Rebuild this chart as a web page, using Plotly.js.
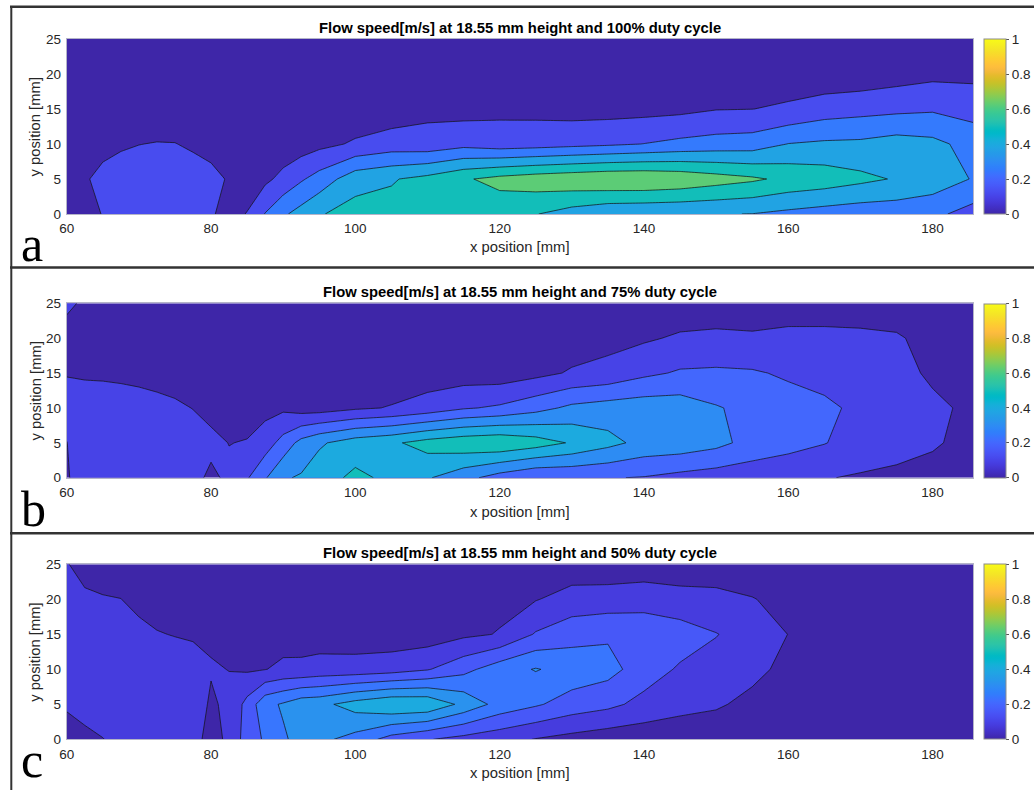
<!DOCTYPE html>
<html><head><meta charset="utf-8">
<script src="https://cdn.plot.ly/plotly-3.0.1.min.js"></script>
<style>html,body{margin:0;padding:0;background:#fff;}#chart{width:1034px;height:790px;}</style>
</head><body><div id="chart"></div>
<script>
// ---- data ----
const xPos = [60, 62.5, 65, 67.5, 70, 72.5, 75, 77.5, 80, 82.5, 85, 87.5, 90, 92.5, 95, 100, 105, 110, 115, 120, 125, 130, 135, 140, 145, 150, 155, 160, 165, 170, 175, 180, 185.6];
const yPos = [0, 5, 10, 15, 20, 25];

// flow speed [m/s], one row per y position, 100% duty cycle
const speed100 = [
 [0.07,0.08,0.13,0.14,0.15,0.15,0.15,0.14,0.13,0.109,0.127,0.255,0.356,0.422,0.49,0.55,0.54,0.58,0.58,0.548,0.505,0.446,0.399,0.39,0.385,0.38,0.373,0.345,0.32,0.302,0.30,0.28,0.2],
 [0.09,0.11,0.164,0.18,0.19,0.19,0.19,0.18,0.16,0.114,0.10,0.098,0.16,0.235,0.30,0.45,0.49,0.537,0.61,0.663,0.695,0.717,0.737,0.74,0.72,0.68,0.645,0.595,0.57,0.53,0.49,0.45,0.367],
 [0.06,0.07,0.083,0.11,0.123,0.13,0.128,0.108,0.084,0.07,0.06,0.06,0.05,0.063,0.092,0.14,0.18,0.169,0.21,0.183,0.195,0.213,0.23,0.252,0.28,0.30,0.31,0.378,0.395,0.40,0.429,0.408,0.33],
 [0.04,0.04,0.04,0.05,0.05,0.047,0.05,0.05,0.04,0.04,0.04,0.04,0.04,0.04,0.04,0.046,0.055,0.096,0.081,0.098,0.092,0.08,0.08,0.085,0.095,0.12,0.124,0.14,0.1875,0.207,0.221,0.234,0.2],
 [0.03,0.03,0.03,0.03,0.03,0.03,0.03,0.03,0.03,0.03,0.03,0.03,0.03,0.03,0.03,0.03,0.03,0.04,0.04,0.05,0.05,0.05,0.05,0.05,0.05,0.06,0.07,0.07,0.04,0.046,0.071,0.094,0.096],
 [0.03,0.03,0.03,0.03,0.03,0.03,0.03,0.03,0.03,0.03,0.03,0.03,0.03,0.03,0.03,0.03,0.03,0.03,0.03,0.03,0.03,0.03,0.03,0.03,0.03,0.03,0.03,0.03,0.03,0.03,0.03,0.05,0.05]
];
// 75% duty cycle
const speed75 = [
 [0.09,0.15,0.15,0.15,0.15,0.15,0.15,0.13,0.08,0.12,0.19,0.29,0.39,0.41,0.46,0.52,0.48,0.41,0.333,0.256,0.203,0.21,0.205,0.195,0.169,0.15,0.14,0.125,0.105,0.09,0.08,0.07,0.06],
 [0.098,0.16,0.16,0.16,0.16,0.155,0.15,0.14,0.125,0.098,0.105,0.15,0.2375,0.333,0.385,0.452,0.483,0.539,0.571,0.586,0.548,0.49,0.43,0.37,0.362,0.329,0.265,0.235,0.204,0.16,0.134,0.11,0.073],
 [0.14,0.14,0.14,0.135,0.13,0.125,0.115,0.098,0.07,0.06,0.06,0.07,0.081,0.056,0.055,0.085,0.106,0.14,0.19,0.215,0.265,0.322,0.345,0.357,0.354,0.308,0.27,0.24,0.23,0.1675,0.15,0.125,0.075],
 [0.095,0.09,0.088,0.085,0.08,0.07,0.06,0.05,0.05,0.05,0.05,0.05,0.05,0.05,0.045,0.05,0.04,0.05,0.05,0.045,0.073,0.11,0.13,0.179,0.211,0.215,0.21,0.187,0.147,0.14,0.14,0.08,0.06],
 [0.06,0.06,0.06,0.06,0.05,0.05,0.05,0.04,0.04,0.04,0.04,0.04,0.04,0.04,0.04,0.04,0.04,0.04,0.04,0.04,0.04,0.05,0.07,0.087,0.113,0.124,0.115,0.13,0.125,0.12,0.11,0.07,0.05],
 [0.12,0.084,0.07,0.06,0.05,0.05,0.05,0.04,0.04,0.04,0.04,0.04,0.04,0.04,0.04,0.04,0.04,0.04,0.04,0.04,0.04,0.04,0.04,0.04,0.04,0.035,0.04,0.04,0.05,0.05,0.05,0.04,0.04]
];
// 50% duty cycle
const speed50 = [
 [0.05,0.06,0.078,0.10,0.11,0.11,0.11,0.10,0.06,0.091,0.20,0.25,0.31,0.345,0.34,0.291,0.208,0.165,0.134,0.109,0.0765,0.054,0.035,0.03,0.03,0.03,0.03,0.03,0.03,0.03,0.03,0.03,0.03],
 [0.088,0.11,0.12,0.13,0.13,0.13,0.13,0.12,0.07,0.095,0.185,0.297,0.329,0.37,0.377,0.434,0.474,0.468,0.378,0.291,0.25,0.205,0.18,0.136,0.105,0.0895,0.06,0.04,0.035,0.03,0.03,0.03,0.03],
 [0.11,0.12,0.125,0.13,0.13,0.125,0.12,0.11,0.085,0.079,0.07,0.078,0.095,0.094,0.106,0.11,0.124,0.154,0.215,0.284,0.325,0.29,0.268,0.2,0.15,0.13,0.10,0.06,0.04,0.035,0.03,0.03,0.03],
 [0.11,0.11,0.12,0.12,0.10,0.084,0.077,0.072,0.07,0.05,0.05,0.05,0.05,0.053,0.047,0.04,0.035,0.038,0.065,0.084,0.167,0.21,0.229,0.21,0.2,0.163,0.125,0.079,0.05,0.04,0.035,0.03,0.03],
 [0.10,0.095,0.086,0.081,0.06,0.05,0.05,0.05,0.05,0.04,0.04,0.04,0.04,0.04,0.04,0.04,0.04,0.035,0.04,0.062,0.076,0.11,0.114,0.129,0.105,0.10,0.083,0.06,0.045,0.04,0.035,0.03,0.03],
 [0.085,0.05,0.04,0.04,0.04,0.04,0.04,0.04,0.04,0.04,0.04,0.04,0.04,0.04,0.04,0.04,0.04,0.035,0.035,0.035,0.035,0.035,0.033,0.03,0.039,0.04,0.04,0.04,0.035,0.035,0.03,0.03,0.03]
];
const levelStep100 = 0.125, levelStep75 = 0.1, levelStep50 = 0.08;

const panelTitles = [
 "Flow speed[m/s] at 18.55 mm height and 100% duty cycle",
 "Flow speed[m/s] at 18.55 mm height and 75% duty cycle",
 "Flow speed[m/s] at 18.55 mm height and 50% duty cycle"
];
const panelLetters = ["a", "b", "c"];
const xTickVals = [60, 80, 100, 120, 140, 160, 180];
const yTickVals = [0, 5, 10, 15, 20, 25];
const cbTickVals = [0, 0.2, 0.4, 0.6, 0.8, 1];
const cbTickText = ["0", "0.2", "0.4", "0.6", "0.8", "1"];
const xTitle = "x position [mm]";
const yTitle = "y position [mm]";

// ---- parula colormap ----
const parulaRGB = [[0.2422,0.1504,0.6603],[0.2504,0.1650,0.7076],[0.2578,0.1818,0.7511],[0.2647,0.1978,0.7952],[0.2706,0.2147,0.8364],[0.2751,0.2342,0.8710],[0.2783,0.2559,0.8991],[0.2803,0.2782,0.9221],[0.2813,0.3006,0.9414],[0.2810,0.3228,0.9579],[0.2795,0.3447,0.9717],[0.2760,0.3667,0.9829],[0.2699,0.3892,0.9906],[0.2602,0.4123,0.9952],[0.2440,0.4358,0.9988],[0.2206,0.4603,0.9973],[0.1963,0.4847,0.9892],[0.1834,0.5074,0.9798],[0.1786,0.5289,0.9682],[0.1764,0.5499,0.9520],[0.1687,0.5703,0.9359],[0.1540,0.5902,0.9218],[0.1460,0.6091,0.9079],[0.1380,0.6276,0.8973],[0.1248,0.6459,0.8883],[0.1113,0.6635,0.8763],[0.0952,0.6798,0.8598],[0.0689,0.6948,0.8394],[0.0297,0.7082,0.8163],[0.0036,0.7203,0.7917],[0.0067,0.7312,0.7660],[0.0433,0.7411,0.7394],[0.0964,0.7500,0.7120],[0.1408,0.7584,0.6842],[0.1717,0.7670,0.6554],[0.1938,0.7758,0.6251],[0.2161,0.7843,0.5923],[0.2470,0.7918,0.5567],[0.2906,0.7973,0.5188],[0.3406,0.8008,0.4789],[0.3909,0.8029,0.4354],[0.4456,0.8024,0.3909],[0.5044,0.7993,0.3480],[0.5616,0.7942,0.3045],[0.6174,0.7876,0.2612],[0.6720,0.7793,0.2227],[0.7242,0.7698,0.1910],[0.7738,0.7598,0.1646],[0.8203,0.7498,0.1535],[0.8634,0.7406,0.1596],[0.9035,0.7330,0.1774],[0.9393,0.7288,0.2100],[0.9728,0.7298,0.2394],[0.9956,0.7434,0.2371],[0.9970,0.7659,0.2199],[0.9952,0.7893,0.2028],[0.9892,0.8136,0.1885],[0.9786,0.8386,0.1766],[0.9676,0.8639,0.1643],[0.9610,0.8890,0.1537],[0.9597,0.9135,0.1423],[0.9628,0.9373,0.1265],[0.9691,0.9606,0.1064],[0.9769,0.9839,0.0805]];
function parula(t){
  t = Math.max(0, Math.min(1, t));
  const f = t * (parulaRGB.length - 1), i = Math.floor(f), w = f - i;
  const a = parulaRGB[i], b = parulaRGB[Math.min(i + 1, parulaRGB.length - 1)];
  const c = a.map((v, k) => Math.round(255 * (v + (b[k] - v) * w)));
  return 'rgb(' + c.join(',') + ')';
}
const parulaScale = parulaRGB.map((_, i) => [i / (parulaRGB.length - 1), parula(i / (parulaRGB.length - 1))]);

// band colours: MATLAB contourf colours each band by its lower level (clim 0..1)
function bandScale(step){
  const n = 6, s = [];
  for (let k = 0; k < n; k++) {
    const c = parula(k * step);
    const lo = k === 0 ? 0 : (k - 0.5) / (n - 1), hi = k === n - 1 ? 1 : (k + 0.5) / (n - 1);
    s.push([lo, c]); s.push([hi, c]);
  }
  return s;
}

// ---- geometry (pixels -> paper) ----
const W = 1034, H = 790;
const px = v => v / W, py = v => 1 - v / H;
const plotX = [66.7, 973];
const plotY = [[39, 214], [303.3, 477.7], [564.3, 739.3]];
const titleY = [28, 291.7, 553.3];
const xLabY = [246.7, 511.7, 772.7];
const letterBase = [262, 527, 778];
const speeds = [speed100, speed75, speed50];
const steps = [levelStep100, levelStep75, levelStep50];

const font = '"Liberation Sans", Arial, Helvetica, sans-serif';
const tickSize = 13.5, labelSize = 14.8;
const data = [], annotations = [], layout = {
  width: W, height: H, margin: {l: 0, r: 0, t: 0, b: 0},
  paper_bgcolor: '#ffffff', plot_bgcolor: '#ffffff', showlegend: false,
  font: {family: font, size: tickSize, color: '#262626'}
};

for (let p = 0; p < 3; p++) {
  const sfx = p === 0 ? '' : String(p + 1);
  const st = steps[p];
  data.push({
    type: 'contour', x: xPos, y: yPos, z: speeds[p],
    xaxis: 'x' + sfx, yaxis: 'y' + sfx,
    autocontour: false,
    contours: {start: st, end: 5 * st, size: st, coloring: 'fill', showlines: true},
    line: {color: 'rgba(20,20,20,0.9)', width: 0.8, smoothing: 0},
    colorscale: bandScale(st), showscale: false, hoverinfo: 'skip'
  });
  const yc = (plotY[p][0] + plotY[p][1]) / 2;
  data.push({
    type: 'scatter', mode: 'markers', x: [null], y: [null],
    xaxis: 'x' + sfx, yaxis: 'y' + sfx, hoverinfo: 'skip',
    marker: {color: [0], cmin: 0, cmax: 1, colorscale: parulaScale, showscale: true,
      colorbar: {x: px(984), xanchor: 'left', xpad: 0, ypad: 0, y: py(yc), yanchor: 'middle',
        len: (plotY[p][1] - plotY[p][0]) / H, lenmode: 'fraction', thickness: 22, thicknessmode: 'pixels',
        outlinewidth: 1, outlinecolor: '#8c8c8c', tickvals: cbTickVals, ticktext: cbTickText,
        ticks: 'outside', ticklen: 3, tickcolor: '#555', tickfont: {family: font, size: tickSize, color: '#262626'}}}
  });
  layout['xaxis' + sfx] = {domain: [px(plotX[0]), px(plotX[1])], anchor: 'y' + sfx, range: [60, 185.6],
    tickvals: xTickVals, ticks: 'outside', ticklen: 2, tickcolor: 'rgba(0,0,0,0)', showgrid: false, zeroline: false,
    showline: true, mirror: true, linecolor: '#b4b4c8', linewidth: 1, tickfont: {family: font, size: tickSize, color: '#262626'}};
  layout['yaxis' + sfx] = {domain: [py(plotY[p][1]), py(plotY[p][0])], anchor: 'x' + sfx, range: [0, 25],
    tickvals: yTickVals, ticks: 'outside', ticklen: 2, tickcolor: 'rgba(0,0,0,0)', showgrid: false, zeroline: false,
    showline: true, mirror: true, linecolor: '#b4b4c8', linewidth: 1, tickfont: {family: font, size: tickSize, color: '#262626'}};
  annotations.push({text: '<b>' + panelTitles[p] + '</b>', x: px((plotX[0] + plotX[1]) / 2), y: py(titleY[p]),
    xref: 'paper', yref: 'paper', xanchor: 'center', yanchor: 'middle', showarrow: false,
    font: {family: font, size: labelSize, color: '#000'}});
  annotations.push({text: xTitle, x: px((plotX[0] + plotX[1]) / 2), y: py(xLabY[p]),
    xref: 'paper', yref: 'paper', xanchor: 'center', yanchor: 'middle', showarrow: false,
    font: {family: font, size: labelSize, color: '#262626'}});
  annotations.push({text: yTitle, x: px(35), y: py(yc), textangle: -90,
    xref: 'paper', yref: 'paper', xanchor: 'center', yanchor: 'middle', showarrow: false,
    font: {family: font, size: labelSize, color: '#262626'}});
  annotations.push({text: panelLetters[p], x: px(19), y: py(letterBase[p] + 12),
    xref: 'paper', yref: 'paper', xanchor: 'left', yanchor: 'bottom', showarrow: false,
    font: {family: '"Liberation Serif", "Times New Roman", serif', size: 50, color: '#000'}});
}
layout.annotations = annotations;
layout.shapes = [
  {type: 'line', xref: 'paper', yref: 'paper', x0: px(10), x1: 1, y0: py(6.7), y1: py(6.7), line: {color: '#333', width: 2.5}},
  {type: 'line', xref: 'paper', yref: 'paper', x0: px(10), x1: 1, y0: py(267.5), y1: py(267.5), line: {color: '#333', width: 2.5}},
  {type: 'line', xref: 'paper', yref: 'paper', x0: px(10), x1: 1, y0: py(533.3), y1: py(533.3), line: {color: '#333', width: 2.5}},
  {type: 'line', xref: 'paper', yref: 'paper', x0: px(11.3), x1: px(11.3), y0: py(6.7), y1: 0, line: {color: '#333', width: 2}}
];
Plotly.newPlot('chart', data, layout, {staticPlot: true, displayModeBar: false});
</script></body></html>
